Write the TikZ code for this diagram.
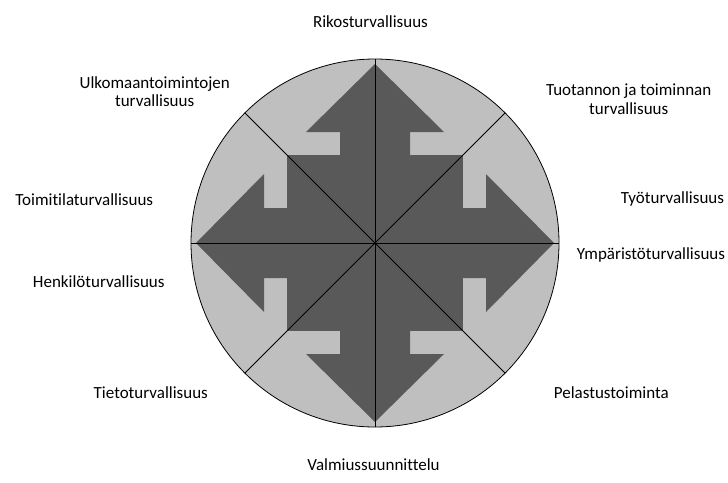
\documentclass[tikz,border=0pt]{standalone}
\usepackage{fontspec}
\setmainfont{Carlito}[Ligatures=NoCommon]
\definecolor{Dark}{HTML}{595959}
\definecolor{Light}{HTML}{BFBFBF}
\tikzset{lbl/.style={font=\fontsize{12.75}{13.8}\selectfont,align=center,anchor=base,inner sep=0pt},spoke/.style={draw=black,line width=.6pt}}

\begin{document}
\begin{tikzpicture}[x=.75pt,y=-.75pt]
      \useasboundingbox (0,0) rectangle (728,482);
      \coordinate (c) at (375,243);
      \fill[Light] (c) circle[radius=184];
      \begin{scope}[shift={(c)}]
        \fill[Dark] (-88,-88) rectangle (88,88);
        \foreach \a in {0,90,180,270}
          \fill[Dark,rotate=\a] (87,-35)--(111,-35)--(111,-69)--(179,0)--(111,69)--(111,35)--(87,35)--cycle;
      \end{scope}
      \foreach \a in {0,45,...,315} \draw[spoke](c)--++(\a:184);
      \draw[spoke](c) circle[radius=184];
      % labels round the circle
      \node[lbl](rik) at (370.5,27.7){Rikosturvallisuus};
      \node[lbl](ulko) at (154.7,106.7){Ulkomaantoimintojen\\turvallisuus};
      \node[lbl](tuot) at (628.7,114.3){Tuotannon ja toiminnan\\turvallisuus};
      \node[lbl](toim) at (84.3,205){Toimitilaturvallisuus};
      \node[lbl](tyo) at (672.5,203.3){Työturvallisuus};
      \node[lbl](ymp) at (651,259){Ympäristöturvallisuus};
      \node[lbl](henk) at (98.8,287.3){Henkilöturvallisuus};
      \node[lbl](tieto) at (150.8,398.3){Tietoturvallisuus};
      \node[lbl](pelas) at (611.3,398.3){Pelastustoiminta};
      \node[lbl](valm) at (373.5,470){Valmiussuunnittelu};
    \end{tikzpicture}
\end{document}
